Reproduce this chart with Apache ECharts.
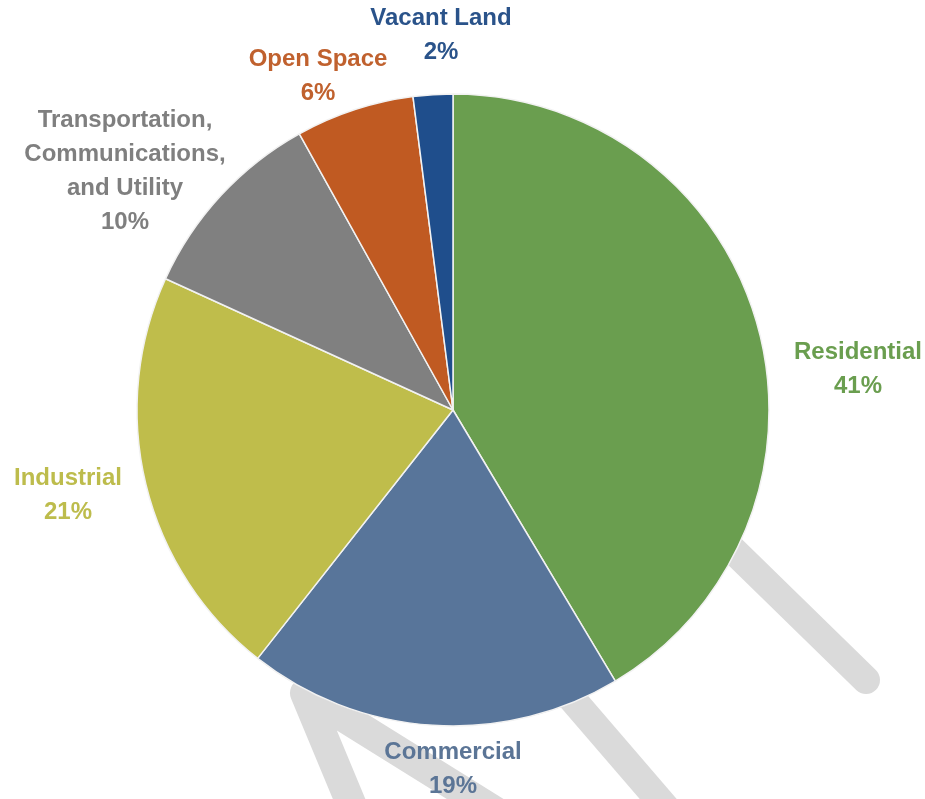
<!DOCTYPE html>
<html>
<head>
<meta charset="utf-8">
<script src="https://cdn.jsdelivr.net/npm/echarts@6/dist/echarts.min.js"></script>
<style>
html,body{margin:0;padding:0;background:#fff;}
#chart{width:925px;height:799px;}
</style>
</head>
<body>
<div id="chart"></div>
<script>
// ---- data ----
const categories = ["Residential", "Commercial", "Industrial", "Transportation,\nCommunications,\nand Utility", "Open Space", "Vacant Land"];
const shares = [41, 19, 21, 10, 6, 2];
const sliceColors = ["#6a9e4f", "#58759a", "#bfbd4b", "#808080", "#c05a22", "#1f4e8c"];
const labelColors = ["#6a9e4f", "#5b7596", "#bdbc4c", "#7f7f7f", "#c0612e", "#2a538a"];

// ---- layout (label anchor points, not data) ----
const labelAnchors = [[858, 369], [453, 769], [68, 495], [125, 171], [318, 76], [441, 35]];

const chart = echarts.init(document.getElementById('chart'), null, {renderer: 'canvas'});

const wm = '#dadada';
const option = {
  backgroundColor: '#ffffff',
  animation: false,
  graphic: [
    {type: 'polyline', z: 0, shape: {points: [[610, 430], [866, 680]]}, style: {stroke: wm, lineWidth: 28, lineCap: 'round', fill: null}},
    {type: 'polyline', z: 0, shape: {points: [[530, 650], [672, 815]]}, style: {stroke: wm, lineWidth: 28, lineCap: 'round', fill: null}},
    {type: 'polyline', z: 0, shape: {points: [[362, 830], [305, 693], [525, 830]]}, style: {stroke: wm, lineWidth: 30, lineCap: 'round', lineJoin: 'round', fill: null}}
  ],
  series: [{
    type: 'pie',
    z: 5,
    center: [453, 410],
    radius: 316,
    startAngle: 90,
    clockwise: true,
    avoidLabelOverlap: false,
    itemStyle: {borderColor: '#f2f2f2', borderWidth: 1.5},
    label: {
      show: true,
      position: 'outside',
      formatter: p => p.name + '\n' + p.value + '%',
      fontFamily: '"Liberation Sans", Arial, sans-serif',
      fontWeight: 'bold',
      fontSize: 24,
      lineHeight: 34,
      align: 'center'
    },
    labelLine: {show: false},
    labelLayout: function (params) {
      const a = labelAnchors[params.dataIndex];
      return {x: a[0], y: a[1], align: 'center', verticalAlign: 'middle'};
    },
    emphasis: {disabled: true},
    data: categories.map((c, i) => ({
      name: c,
      value: shares[i],
      itemStyle: {color: sliceColors[i]},
      label: {color: labelColors[i]}
    }))
  }]
};
chart.setOption(option);
</script>
</body>
</html>
